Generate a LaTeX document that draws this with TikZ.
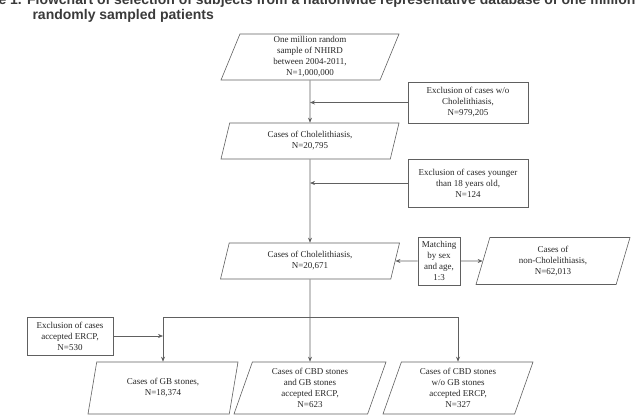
\documentclass[tikz,border=0pt]{standalone}
\usepackage{fontspec}
\setmainfont{Liberation Serif}
\newfontfamily\titlefont{Liberation Sans}
\usetikzlibrary{shapes.geometric,arrows.meta}
\definecolor{linegray}{HTML}{606060}
\definecolor{titlegray}{HTML}{3A3A3A}
\begin{document}
\begin{tikzpicture}[x=1pt,y=-1pt,
    every node/.style={font=\fontsize{9}{11}\selectfont, text=black!85, align=center},
    databox/.style={draw=linegray, line width=0.6pt, trapezium, trapezium left angle=65,
        trapezium right angle=115, trapezium stretches body, inner sep=0pt},
    exclbox/.style={draw=linegray, line width=0.6pt, rectangle, inner sep=0pt},
    flow/.style={draw=linegray, line width=0.6pt, -{Stealth[length=5pt,width=4pt]}},
    titletext/.style={anchor=base west, align=left, text=titlegray,
        font=\titlefont\bfseries\fontsize{14}{15}\selectfont}]

\useasboundingbox (0,0) rectangle (635,418);
\clip (0,0) rectangle (635,418);

% title, cut by the frame
\node[titletext] (title1) at (-40,4) {Figure 1. Flowchart of selection of subjects from a nationwide representative database of one million};
\node[titletext] (title2) at (29,19) {randomly sampled patients};

% main column
\node[databox, minimum width=178pt, minimum height=46pt] (sample) at (310,57) {One million random\\sample of NHIRD\\between 2004-2011,\\N=1,000,000};
\node[databox, minimum width=178pt, minimum height=36pt] (chol1) at (310,141) {Cases of Cholelithiasis,\\N=20,795};
\node[databox, minimum width=179pt, minimum height=36pt] (chol2) at (310,261) {Cases of Cholelithiasis,\\N=20,671};

% exclusions
\node[exclbox, minimum width=120pt, minimum height=41pt] (excl1) at (468,102.5) {Exclusion of cases w/o\\Cholelithiasis,\\N=979,205};
\node[exclbox, minimum width=120pt, minimum height=48pt] (excl2) at (468,183) {Exclusion of cases younger\\than 18 years old,\\N=124};
\node[exclbox, minimum width=86pt, minimum height=38pt] (excl3) at (70,336) {Exclusion of cases\\accepted ERCP,\\N=530};

% matching
\node[exclbox, minimum width=42pt, minimum height=48pt] (match) at (439,261) {Matching\\by sex\\and age,\\1:3};
\node[databox, minimum width=154pt, minimum height=47pt] (nonchol) at (553,261) {Cases of\\non-Cholelithiasis,\\N=62,013};

% groups
\node[databox, minimum width=150pt, minimum height=52pt] (gb) at (163,388) {Cases of GB stones,\\N=18,374};
\node[databox, minimum width=152pt, minimum height=52pt] (cbdgb) at (310,388) {Cases of CBD stones\\and GB stones\\accepted ERCP,\\N=623};
\node[databox, minimum width=150pt, minimum height=52pt] (cbd) at (458,388) {Cases of CBD stones\\w/o GB stones\\accepted ERCP,\\N=327};

\coordinate (fork) at (310,317);

\draw[flow] (sample) -- (chol1);
\draw[flow] (excl1.west) -- (sample.south |- excl1.west);
\draw[flow] (chol1) -- (chol2);
\draw[flow] (excl2.west) -- (chol1.south |- excl2.west);
\draw[flow] (match.west) -- (chol2.east);
\draw[flow] (match.east) -- (nonchol.west);
\draw[flow] (chol2) -- (cbdgb);
\draw[flow] (fork) -| (gb.north);
\draw[flow] (fork) -| (cbd.north);
\draw[flow] (excl3.east) -- (excl3.east -| gb.north);

\end{tikzpicture}
\end{document}
